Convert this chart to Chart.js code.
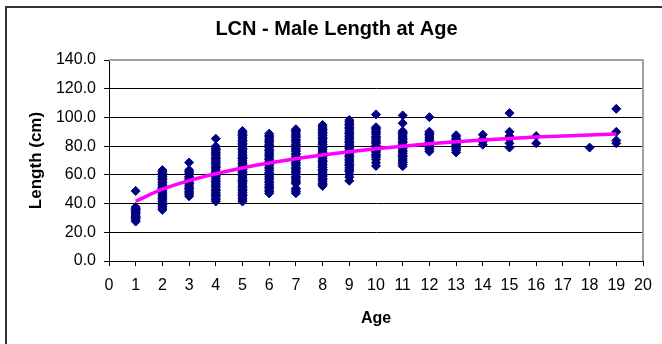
<!DOCTYPE html>
<html>
<head>
<meta charset="utf-8">
<script src="https://cdn.jsdelivr.net/npm/chart.js@4/dist/chart.umd.min.js"></script>
<style>
  html, body { margin: 0; padding: 0; background: #fff; }
  #wrap { width: 662px; height: 344px; }
</style>
</head>
<body>
<div id="wrap"><canvas id="lengthAtAge" width="662" height="344"></canvas></div>
<script>
// observed male lengths (cm), one list per age group
var obsAges = [1, 2, 3, 4, 5, 6, 7, 8, 9, 10, 11, 12, 13, 14, 15, 16, 18, 19];
var lengthsByAge = [
  [27.5, 28.6, 29.8, 30.4, 31.2, 32.0, 32.8, 33.5, 34.1, 35.0, 35.9, 36.7, 37.6, 48.8],
  [35.6, 36.9, 38.2, 39.4, 40.1, 41.3, 42.6, 43.8, 44.5, 45.7, 46.9, 48.0, 49.2, 50.4, 51.1, 52.3, 53.5, 54.6, 55.8, 56.9, 57.7, 58.8, 59.9, 61.0, 62.1, 63.3],
  [45.1, 46.3, 47.4, 48.2, 49.5, 50.6, 51.4, 52.7, 53.8, 54.6, 55.9, 57.0, 57.8, 58.9, 60.1, 61.2, 62.3, 63.4, 68.6],
  [41.5, 42.6, 43.4, 44.7, 45.8, 46.6, 47.9, 49.0, 49.8, 51.1, 52.2, 53.0, 54.3, 55.4, 56.2, 57.5, 58.6, 59.4, 60.7, 61.8, 62.6, 63.9, 65.0, 65.8, 67.1, 68.2, 69.0, 70.3, 71.4, 72.2, 73.5, 74.6, 75.4, 76.7, 77.8, 78.6, 79.9, 85.2],
  [41.4, 42.5, 43.3, 44.6, 45.7, 46.5, 47.8, 48.9, 49.7, 51.0, 52.1, 52.9, 54.2, 55.3, 56.1, 57.4, 58.5, 59.3, 60.6, 61.7, 62.5, 63.8, 64.9, 65.7, 67.0, 68.1, 68.9, 70.2, 71.3, 72.1, 73.4, 74.5, 75.3, 76.6, 77.7, 78.5, 79.8, 80.9, 81.7, 83.0, 84.1, 84.9, 86.2, 87.3, 88.1, 89.4, 90.6],
  [47.1, 48.2, 49.0, 50.3, 51.4, 52.2, 53.5, 54.6, 55.4, 56.7, 57.8, 58.6, 59.9, 61.0, 61.8, 63.1, 64.2, 65.0, 66.3, 67.4, 68.2, 69.5, 70.6, 71.4, 72.7, 73.8, 74.6, 75.9, 77.0, 77.8, 79.1, 80.2, 81.0, 82.3, 83.4, 84.2, 85.5, 86.6, 87.4, 88.7],
  [47.2, 48.3, 49.5, 50.6, 53.8, 54.9, 55.7, 57.0, 58.1, 58.9, 60.2, 61.3, 62.1, 63.4, 64.5, 65.3, 66.6, 67.7, 68.5, 69.8, 70.9, 71.7, 73.0, 74.1, 74.9, 76.2, 77.3, 78.1, 79.4, 80.5, 81.3, 82.6, 83.7, 84.5, 85.8, 86.9, 87.7, 89.0, 90.1, 90.9, 91.8],
  [52.3, 53.4, 54.2, 55.5, 56.6, 57.4, 58.7, 59.8, 60.6, 61.9, 63.0, 63.8, 65.1, 66.2, 67.0, 68.3, 69.4, 70.2, 71.5, 72.6, 73.4, 74.7, 75.8, 76.6, 77.9, 79.0, 79.8, 81.1, 82.2, 83.0, 84.3, 85.4, 86.2, 87.5, 88.6, 89.4, 90.7, 91.8, 92.6, 93.9, 94.8],
  [55.9, 58.4, 60.3, 62.2, 63.3, 64.1, 65.4, 66.5, 67.3, 68.6, 69.7, 70.5, 71.8, 72.9, 73.7, 75.0, 76.1, 76.9, 78.2, 79.3, 80.1, 81.4, 82.5, 83.3, 84.6, 85.7, 86.5, 87.8, 88.9, 89.7, 91.0, 92.1, 92.9, 94.2, 95.3, 96.1, 97.4, 98.2],
  [66.2, 68.4, 70.6, 72.1, 73.2, 74.0, 75.3, 76.4, 77.2, 78.5, 79.6, 80.4, 81.7, 82.8, 83.6, 84.9, 86.0, 86.8, 88.1, 89.2, 90.0, 91.3, 92.4, 93.2, 102.1],
  [66.0, 67.3, 68.5, 69.6, 70.4, 71.7, 72.8, 73.6, 74.9, 76.0, 76.8, 78.1, 79.2, 80.0, 81.3, 82.4, 83.2, 84.5, 85.6, 86.4, 87.7, 88.8, 89.6, 90.5, 96.0, 101.4],
  [76.2, 77.5, 78.6, 79.4, 80.7, 81.8, 82.6, 83.9, 85.0, 85.8, 87.1, 88.2, 89.0, 90.1, 100.2],
  [75.6, 76.9, 78.0, 78.8, 80.1, 81.2, 82.0, 83.3, 84.4, 85.2, 86.5, 87.6],
  [81.0, 83.0, 85.0, 88.0],
  [79.0, 82.0, 85.0, 87.0, 90.0, 103.0],
  [82.0, 87.0],
  [79.0],
  [82.0, 84.0, 90.0, 106.0]
];

// fitted growth curve
var curveAges = [1, 2, 3, 4, 5, 6, 7, 8, 9, 10, 11, 12, 13, 14, 15, 16, 17, 18, 19];
var curveLengths = [41.6, 50.0, 56.0, 60.8, 64.8, 68.2, 71.2, 73.8, 76.1, 78.2, 80.0, 81.6, 83.0, 84.2, 85.3, 86.3, 87.1, 87.8, 88.4];

var FONT = 'Arial, "Liberation Sans", sans-serif';

var obsPoints = [];
for (var i = 0; i < obsAges.length; i++) {
  for (var j = 0; j < lengthsByAge[i].length; j++) {
    obsPoints.push({x: obsAges[i], y: lengthsByAge[i][j]});
  }
}
var curvePoints = [];
for (var k = 0; k < curveAges.length; k++) {
  curvePoints.push({x: curveAges[k], y: curveLengths[k]});
}

// outer frame and grey plot edge
var framePlugin = {
  id: 'frame',
  beforeDraw: function(chart) {
    var ctx = chart.ctx;
    ctx.save();
    ctx.fillStyle = '#fff';
    ctx.fillRect(0, 0, chart.width, chart.height);
    ctx.strokeStyle = '#333';
    ctx.lineWidth = 2;
    ctx.strokeRect(6, 7, 800, 500);
    ctx.restore();
  },
  beforeDatasetsDraw: function(chart) {
    var a = chart.chartArea, ctx = chart.ctx;
    ctx.save();
    ctx.strokeStyle = '#a0a0a0';
    ctx.lineWidth = 2;
    ctx.beginPath();
    ctx.moveTo(a.left, a.top);
    ctx.lineTo(a.right, a.top);
    ctx.lineTo(a.right, a.bottom);
    ctx.stroke();
    ctx.restore();
  }
};

new Chart(document.getElementById('lengthAtAge').getContext('2d'), {
  type: 'scatter',
  data: {
    datasets: [
      {
        label: 'Fitted',
        type: 'line',
        data: curvePoints,
        borderColor: '#ff00ff',
        borderWidth: 3.5,
        pointRadius: 0,
        cubicInterpolationMode: 'monotone',
        fill: false,
        order: 0
      },
      {
        label: 'Observed',
        data: obsPoints,
        pointStyle: 'rectRot',
        pointRadius: 4.5,
        backgroundColor: '#000080',
        borderColor: '#000080',
        borderWidth: 1,
        order: 1
      }
    ]
  },
  options: {
    responsive: false,
    animation: false,
    layout: { padding: { left: 30, right: 19, top: 7, bottom: 0 } },
    plugins: {
      legend: { display: false },
      tooltip: { enabled: false },
      title: {
        display: true,
        text: 'LCN - Male Length at Age',
        color: '#000',
        font: { family: FONT, size: 20, weight: 'bold' },
        padding: { top: 10.5, bottom: 18.5 }
      }
    },
    scales: {
      x: {
        type: 'linear',
        min: 0,
        max: 20,
        afterFit: function(scale) { scale.height = 83; },
        ticks: { stepSize: 1, color: '#000', padding: 10, font: { family: FONT, size: 16 } },
        grid: { drawOnChartArea: false, tickLength: 5, tickColor: '#000' },
        border: { color: '#000', width: 1 },
        title: {
          display: true, text: 'Age', color: '#000',
          font: { family: FONT, size: 16, weight: 'bold' },
          padding: { top: 0, bottom: 16 }
        }
      },
      y: {
        min: 0,
        max: 140,
        afterFit: function(scale) { scale.width = 79; },
        ticks: {
          stepSize: 20, color: '#000', padding: 8,
          font: { family: FONT, size: 16 },
          callback: function(v) { return v.toFixed(1); }
        },
        grid: { color: '#000', tickLength: 5, tickColor: '#000' },
        border: { color: '#000', width: 1 },
        title: {
          display: true, text: 'Length (cm)', color: '#000',
          font: { family: FONT, size: 17, weight: 'bold' },
          padding: { top: -4, bottom: 0 }
        }
      }
    }
  },
  plugins: [framePlugin]
});
</script>
</body>
</html>
